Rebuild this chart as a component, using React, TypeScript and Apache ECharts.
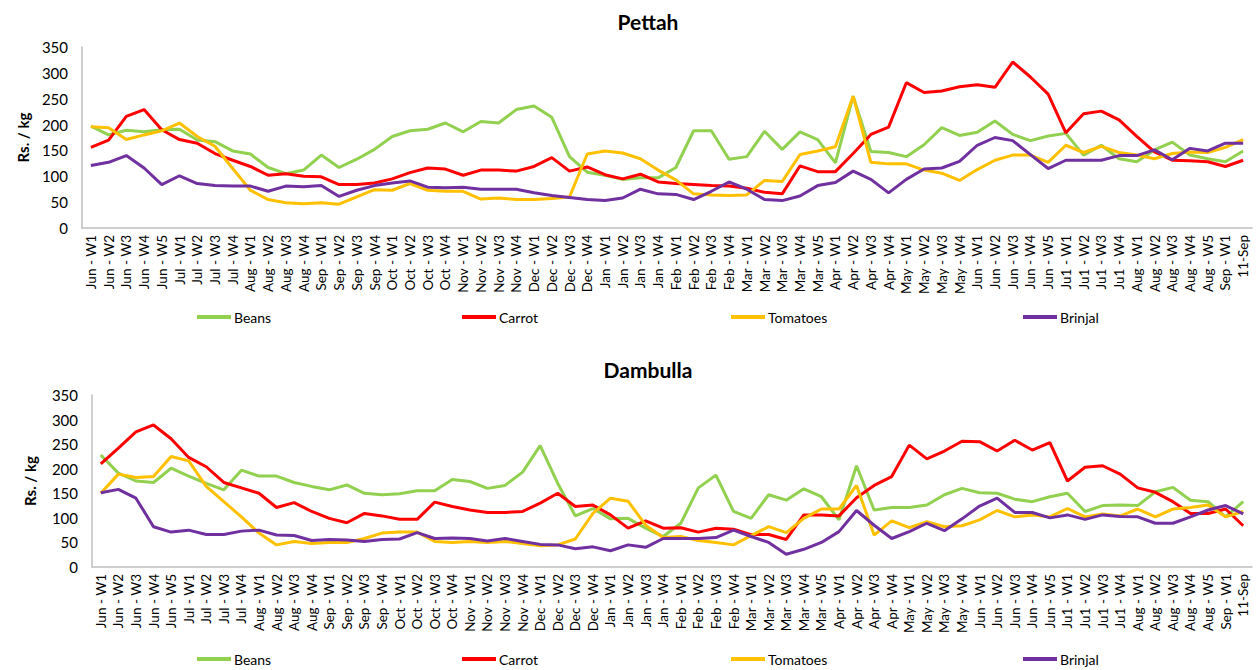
import React, { useEffect, useRef } from "react";
import * as echarts from "echarts";

const categories = [
  "Jun - W1", "Jun - W2", "Jun - W3", "Jun - W4", "Jun - W5",
  "Jul - W1", "Jul - W2", "Jul - W3", "Jul - W4",
  "Aug - W1", "Aug - W2", "Aug - W3", "Aug - W4",
  "Sep - W1", "Sep - W2", "Sep - W3", "Sep - W4",
  "Oct - W1", "Oct - W2", "Oct - W3", "Oct - W4",
  "Nov - W1", "Nov - W2", "Nov - W3", "Nov - W4",
  "Dec - W1", "Dec - W2", "Dec - W3", "Dec - W4",
  "Jan - W1", "Jan - W2", "Jan - W3", "Jan - W4",
  "Feb - W1", "Feb - W2", "Feb - W3", "Feb - W4",
  "Mar - W1", "Mar - W2", "Mar - W3", "Mar - W4", "Mar - W5",
  "Apr - W1", "Apr - W2", "Apr - W3", "Apr - W4",
  "May - W1", "May - W2", "May - W3", "May - W4",
  "Jun - W1", "Jun - W2", "Jun - W3", "Jun - W4", "Jun - W5",
  "Ju1 - W1", "Ju1 - W2", "Ju1 - W3", "Ju1 - W4",
  "Aug - W1", "Aug - W2", "Aug - W3", "Aug - W4", "Aug - W5",
  "Sep - W1", "11-Sep",
];

const yTicks = { min: 0, max: 350, interval: 50 };

const seriesNames = ["Beans", "Carrot", "Tomatoes", "Brinjal"];
const seriesColors = ["#92D050", "#FF0000", "#FFC000", "#7030A0"];

// Pettah
const pettahBeans = [
  197, 180, 189, 186, 190, 191, 170, 167, 149, 143, 117, 105, 112, 141, 117, 133, 152,
  177, 188, 191, 203, 186, 206, 203, 229, 236, 214, 138, 108, 102, 94, 97, 97,
  117, 188, 188, 133, 138, 187, 152, 186, 171, 126, 255, 148, 146, 138, 161, 194,
  179, 185, 207, 181, 169, 178, 183, 141, 160, 134, 128, 151, 166, 141, 134, 128, 149,
];
const pettahCarrot = [
  156, 170, 216, 229, 190, 171, 164, 144, 131, 119, 102, 105, 100, 99, 84, 84, 87,
  95, 107, 116, 114, 102, 112, 112, 110, 119, 136, 110, 118, 103, 95, 104, 89,
  86, 84, 82, 81, 77, 69, 66, 120, 109, 109, 144, 181, 195, 281, 262, 265,
  273, 277, 272, 321, 292, 259, 184, 221, 226, 209, 177, 147, 131, 130, 128, 119, 131,
];
const pettahTomatoes = [
  196, 194, 171, 180, 188, 203, 177, 158, 115, 73, 55, 49, 47, 49, 46, 60, 74,
  73, 86, 73, 71, 71, 56, 58, 55, 55, 57, 60, 143, 149, 145, 134, 112,
  93, 66, 64, 63, 64, 92, 90, 142, 149, 157, 255, 127, 124, 124, 112, 106,
  92, 113, 131, 141, 141, 127, 160, 146, 158, 146, 141, 134, 144, 147, 146, 156, 171,
];
const pettahBrinjal = [
  121, 127, 140, 116, 84, 101, 86, 82, 81, 81, 71, 81, 80, 82, 61, 73, 82,
  87, 91, 79, 78, 79, 75, 75, 75, 68, 63, 59, 55, 53, 58, 75, 66,
  65, 55, 71, 89, 75, 55, 53, 62, 82, 88, 110, 94, 68, 94, 114, 116,
  129, 160, 175, 169, 142, 115, 131, 131, 131, 140, 140, 151, 132, 154, 149, 164, 164,
];

// Dambulla
const dambullaBeans = [
  228, 191, 175, 172, 201, 185, 170, 157, 197, 185, 185, 172, 164, 157, 167, 150, 147,
  149, 155, 155, 178, 174, 160, 166, 193, 247, 170, 104, 119, 98, 99, 79, 62,
  89, 161, 187, 113, 99, 147, 136, 159, 143, 96, 206, 116, 121, 121, 126, 147,
  160, 151, 150, 138, 133, 143, 150, 113, 125, 126, 125, 153, 162, 136, 133, 102, 133,
];
const dambullaCarrot = [
  210, 242, 275, 289, 261, 223, 204, 172, 161, 150, 121, 131, 113, 99, 90, 109, 104,
  97, 97, 132, 123, 116, 111, 111, 113, 130, 150, 123, 126, 106, 79, 94, 79,
  80, 71, 79, 77, 66, 66, 56, 106, 106, 104, 141, 166, 184, 248, 220, 236,
  256, 255, 236, 258, 238, 253, 175, 203, 206, 189, 161, 152, 133, 109, 109, 118, 84,
];
const dambullaTomatoes = [
  150, 189, 182, 184, 225, 216, 164, 133, 102, 69, 45, 52, 48, 50, 50, 58, 69,
  71, 71, 52, 50, 52, 50, 52, 48, 43, 45, 57, 109, 140, 134, 85, 60,
  62, 54, 50, 45, 64, 82, 70, 99, 118, 118, 166, 65, 94, 80, 92, 82,
  84, 96, 115, 102, 106, 102, 119, 102, 108, 104, 118, 102, 118, 121, 126, 102, 113,
];
const dambullaBrinjal = [
  151, 158, 140, 82, 71, 75, 66, 66, 73, 75, 65, 64, 54, 56, 55, 52, 56,
  57, 70, 58, 59, 58, 53, 58, 52, 46, 45, 37, 41, 33, 45, 40, 58,
  58, 58, 60, 75, 62, 50, 26, 36, 50, 72, 115, 85, 58, 72, 89, 74,
  98, 124, 140, 111, 111, 100, 106, 97, 106, 103, 102, 89, 89, 102, 116, 125, 108,
];

const charts = [
  { title: "Pettah", data: [pettahBeans, pettahCarrot, pettahTomatoes, pettahBrinjal] },
  { title: "Dambulla", data: [dambullaBeans, dambullaCarrot, dambullaTomatoes, dambullaBrinjal] },
];

const FONT = "Lato, 'Open Sans', sans-serif";

export default function App() {
  const ref = useRef<HTMLDivElement>(null);

  useEffect(() => {
    document.body.style.margin = "0";
    if (!ref.current) return;
    const chart = echarts.init(ref.current, null, { renderer: "svg" });

    const grids = [
      { left: 82, right: 8, top: 47, height: 181 },
      { left: 92, right: 8, top: 395, height: 172 },
    ];
    const titleTops = [6, 354];
    const legendTops = [305, 647];
    const legendLefts = [192, 457, 726, 1018];

    const option: any = {
      animation: false,
      backgroundColor: "#ffffff",
      textStyle: { fontFamily: FONT },
      title: charts.map((c, i) => ({
        text: c.title,
        left: 643,
        top: titleTops[i],
        textAlign: "center",
        textStyle: { fontFamily: FONT, fontSize: 21, fontWeight: "bold", color: "#000" },
      })),
      legend: charts.flatMap((c, ci) =>
        seriesNames.map((n, si) => ({
          data: [n],
          left: legendLefts[si],
          top: legendTops[ci],
          icon: "rect",
          itemWidth: 34,
          itemHeight: 4,
          itemGap: 0,
          textStyle: { fontFamily: FONT, fontSize: 14, color: "#000", padding: [0, 0, 0, -2] },
        }))
      ),
      grid: grids,
      xAxis: grids.map((_, gi) => ({
        type: "category",
        gridIndex: gi,
        data: categories,
        boundaryGap: true,
        axisLine: { show: true, lineStyle: { color: "#BFBFBF", width: 1.5 } },
        axisTick: { show: false },
        axisLabel: {
          interval: 0,
          rotate: 90,
          fontFamily: FONT,
          fontSize: 13.5,
          color: "#000",
          margin: 7,
        },
        splitLine: { show: false },
      })),
      yAxis: grids.map((_, gi) => ({
        type: "value",
        gridIndex: gi,
        min: yTicks.min,
        max: yTicks.max,
        interval: yTicks.interval,
        name: "Rs. / kg",
        nameLocation: "middle",
        nameRotate: 90,
        nameGap: gi === 0 ? 52 : 55,
        nameTextStyle: { fontFamily: FONT, fontSize: 15, fontWeight: "bold", color: "#000" },
        axisLine: { show: true, lineStyle: { color: "#BFBFBF", width: 1.5 } },
        axisTick: { show: false },
        axisLabel: { fontFamily: FONT, fontSize: 15, color: "#000", margin: 14 },
        splitLine: { show: false },
      })),
      series: charts.flatMap((c, ci) =>
        seriesNames.map((n, si) => ({
          name: n,
          type: "line",
          xAxisIndex: ci,
          yAxisIndex: ci,
          data: c.data[si],
          symbol: "none",
          color: seriesColors[si],
          lineStyle: { width: 3, color: seriesColors[si] },
        }))
      ),
    };

    chart.setOption(option);
    return () => chart.dispose();
  }, []);

  return <div ref={ref} style={{ width: 1260, height: 670 }} />;
}
